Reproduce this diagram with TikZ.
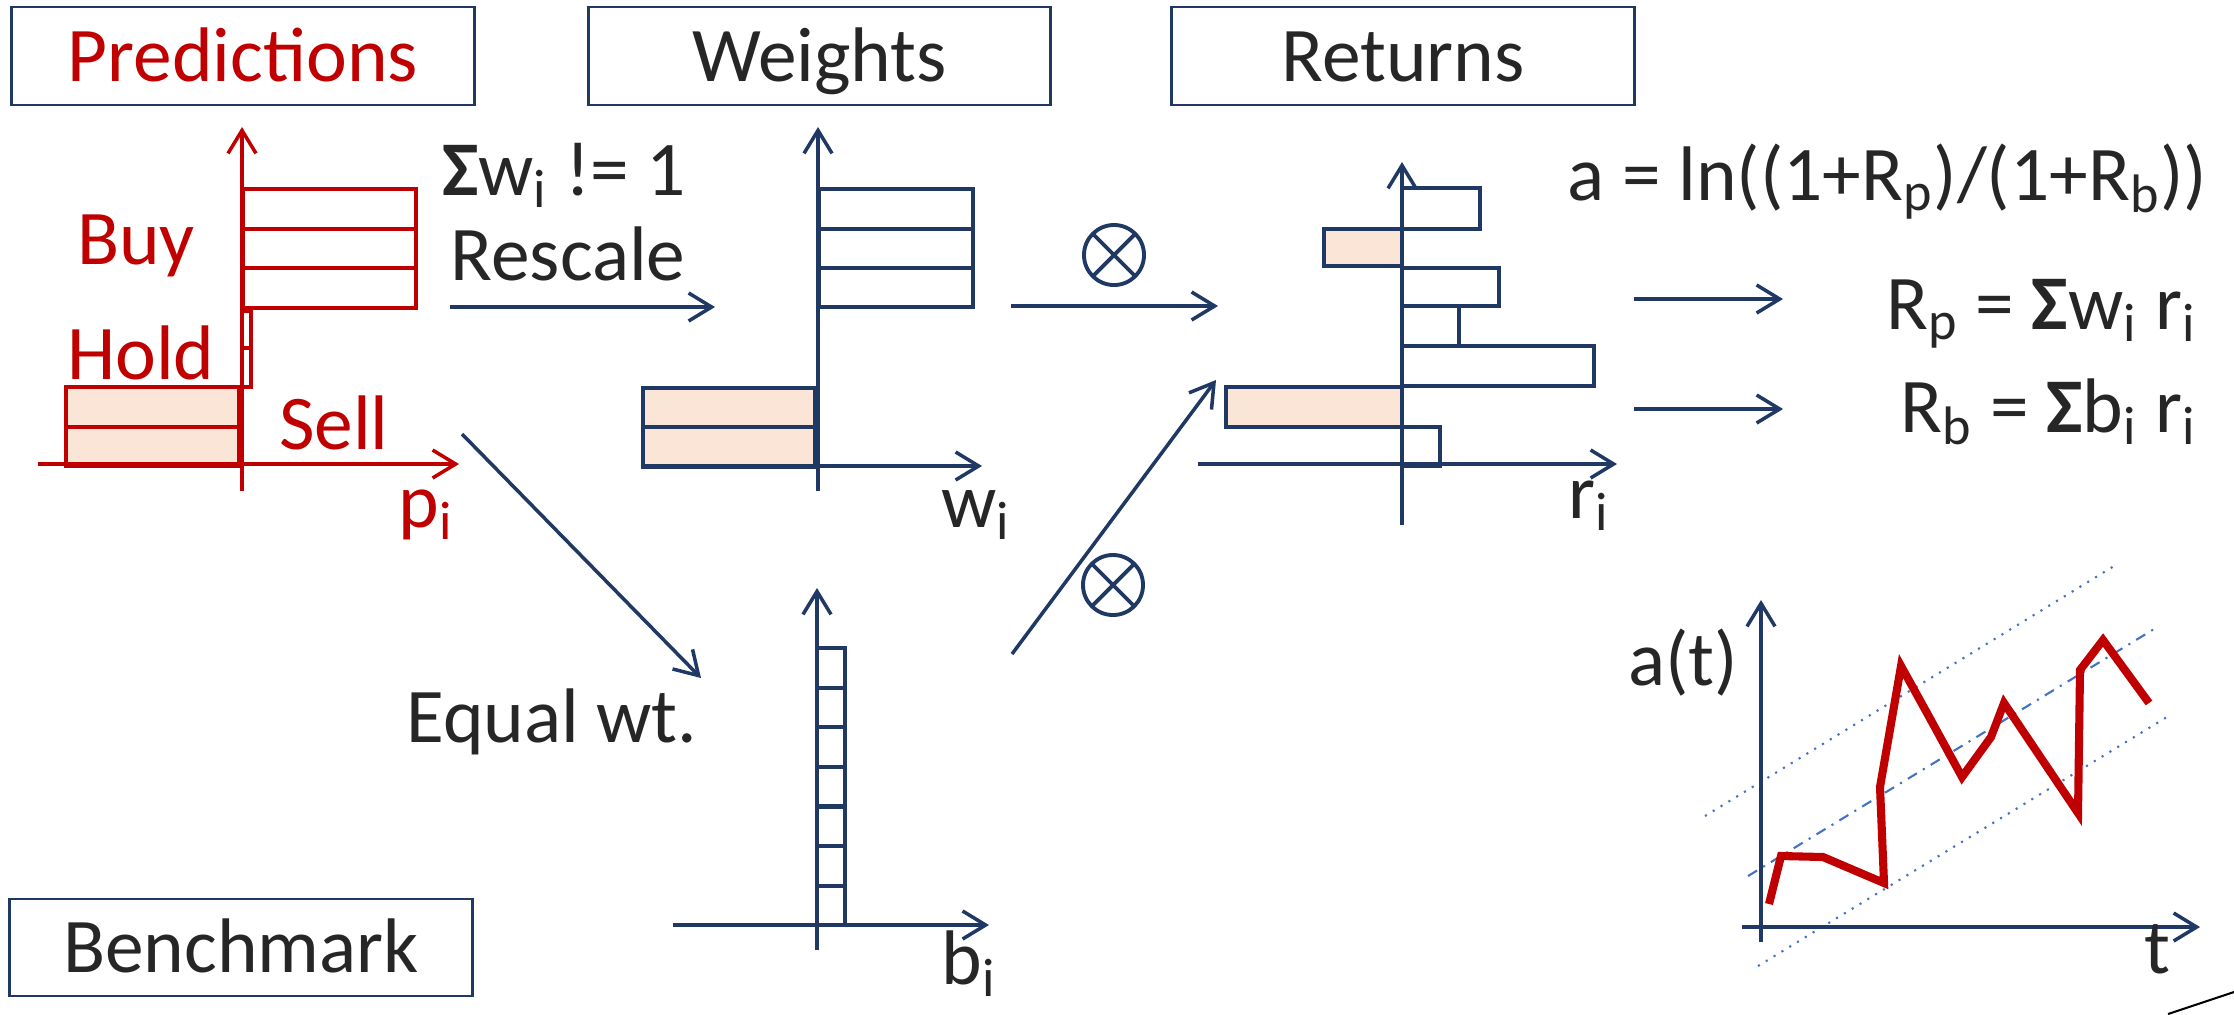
\documentclass[tikz,border=0pt]{standalone}
\usepackage{fontspec}
\setmainfont{Carlito}
\usetikzlibrary{arrows.meta}

\definecolor{navy}{HTML}{1F3864}
\definecolor{darkred}{HTML}{C00000}
\definecolor{peach}{HTML}{FBE5D6}
\definecolor{ink}{HTML}{262626}
\definecolor{trend}{HTML}{4472C4}

\begin{document}
\begin{tikzpicture}[
    x=0.01cm, y=-0.01cm,
    font=\fontsize{22}{26}\selectfont,
    title/.style={rectangle, draw=navy, line width=0.8pt, minimum width=4.62cm, minimum height=0.98cm, text height=0.55cm, text depth=0.05cm, inner sep=0pt, text=ink},
    lbl/.style={anchor=base, inner sep=0pt, text=ink},
    tip/.style={-{Straight Barb[length=2.3mm, width=2.8mm]}},
    axis/.style={tip, line width=1pt},
    arrow/.style={tip, draw=navy, line width=1pt},
    bar/.style={draw=navy, line width=1.2pt},
    neg/.style={bar, fill=peach},
    mult/.style={circle, draw=navy, line width=1.1pt, minimum size=0.6cm, inner sep=0pt,
        path picture={\draw[navy, line width=1.1pt]
            (path picture bounding box.north west) -- (path picture bounding box.south east)
            (path picture bounding box.north east) -- (path picture bounding box.south west);}},
    trendline/.style={trend, line width=0.6pt}
]
\useasboundingbox (0,0) rectangle (2234,1014);

% titles
\node[title, text=darkred] (pred) at (243,56) {Predictions};
\node[title] (weights) at (819.5,56) {Weights};
\node[title] (returns) at (1403,56) {Returns};
\node[title, minimum height=0.97cm] (bench) at (241,947.5) {Benchmark};

% predictions
\foreach \t/\b in {189/229, 229/268, 268/308}
    \draw[bar, draw=darkred] (243,\t) rectangle (416,\b);
\foreach \t/\b in {311/348, 348/387}
    \draw[bar, draw=darkred] (242,\t) rectangle (251,\b);
\foreach \t/\b in {387/427, 427/466}
    \draw[neg, draw=darkred] (66,\t) rectangle (239,\b);
\draw[axis, darkred] (242,491) -- (242,127);
\draw[axis, darkred] (38,464) -- (459,464);
\node[lbl, text=darkred] (buy) at (136,264) {Buy};
\node[lbl, text=darkred] (hold) at (141,379) {Hold};
\node[lbl, text=darkred] (sell) at (334,449) {Sell};
\node[lbl, text=darkred] (pi) at (426,527) {p\textsubscript{i}};

% weights
\foreach \t/\b in {189/229, 229/268, 268/307}
    \draw[bar] (819,\t) rectangle (973,\b);
\foreach \t/\b in {388/427, 427/467}
    \draw[neg] (643,\t) rectangle (815,\b);
\draw[axis, navy] (818,491) -- (818,127);
\draw[axis, navy] (643,466) -- (982,466);
\node[lbl] (wi) at (976,527) {w\textsubscript{i}};
\node[lbl] (sumw) at (564,195) {\textbf{Σ}w\textsubscript{i} != 1};
\node[lbl] (rescale) at (568,280) {Rescale};

% returns
\foreach \x/\t/\b in {1480/188/229, 1499/268/306, 1459/306/346, 1594/346/386, 1440/427/466}
    \draw[bar] (1402,\t) rectangle (\x,\b);
\foreach \x/\t/\b in {1324/229/266, 1226/387/427}
    \draw[neg] (\x,\t) rectangle (1402,\b);
\draw[axis, navy] (1402,525) -- (1402,162);
\draw[axis, navy] (1198,464) -- (1617,464);
\node[lbl] (ri) at (1589,518) {r\textsubscript{i}};

% benchmark
\foreach \i in {0,...,6}
    \draw[bar] (817,{648+\i*39.6}) rectangle (845,{648+(\i+1)*39.6});
\draw[axis, navy] (817,950) -- (817,588);
\draw[axis, navy] (673,925) -- (989,925);
\node[lbl] (bi) at (969,984) {b\textsubscript{i}};
\node[lbl] (equal) at (552,742) {Equal wt.};

% products
\node[mult] (mulw) at (1114,255) {};
\node[mult] (mulb) at (1113,585) {};

% formulas
\node[lbl, anchor=base east] (alpha) at (2208,200) {a = ln((1+R\textsubscript{p})/(1+R\textsubscript{b}))};
\node[lbl, anchor=base east] (rp) at (2197,329) {R\textsubscript{p} = \textbf{Σ}w\textsubscript{i} r\textsubscript{i}};
\node[lbl, anchor=base east] (rb) at (2197,432) {R\textsubscript{b} = \textbf{Σ}b\textsubscript{i} r\textsubscript{i}};

% connectors
\coordinate (rs0) at (450,307);
\coordinate (rs1) at (715,307);
\coordinate (wr0) at (1011,306);
\coordinate (wr1) at (1218,306);
\coordinate (eq0) at (462,434);
\coordinate (eq1) at (701,678);
\coordinate (br0) at (1012,654);
\coordinate (br1) at (1216,380);
\coordinate (rp0) at (1634,299);
\coordinate (rp1) at (1783,299);
\coordinate (rb0) at (1634,409);
\coordinate (rb1) at (1783,409);
\draw[arrow] (rs0) -- (rs1);
\draw[arrow] (wr0) -- (wr1);
\draw[arrow] (eq0) -- (eq1);
\draw[arrow] (br0) -- (br1);
\draw[arrow] (rp0) -- (rp1);
\draw[arrow] (rb0) -- (rb1);

% alpha over time
\draw[trendline, dotted] (1705,816) -- (2114,566);
\draw[trendline, dash dot] (1748,876) -- (2159,626);
\draw[trendline, dotted] (1758,966) -- (2167,717);
\draw[darkred, line width=2.3pt] (1769,904) -- (1781,856) -- (1823,857) -- (1884,883)
    -- (1880,787) -- (1901,666) -- (1927,713) -- (1962,777) -- (1991,737) -- (2004,703)
    -- (2078,813) -- (2080,670) -- (2103,640) -- (2149,703);
\draw[axis, navy] (1761,942) -- (1761,600);
\draw[axis, navy] (1742,927) -- (2200,927);
\node[lbl] (at) at (1683,685) {a(t)};
\node[lbl] (t) at (2157,973) {t};

\draw[black, line width=0.6pt] (2168,1014) -- (2234,992);
\end{tikzpicture}
\end{document}
